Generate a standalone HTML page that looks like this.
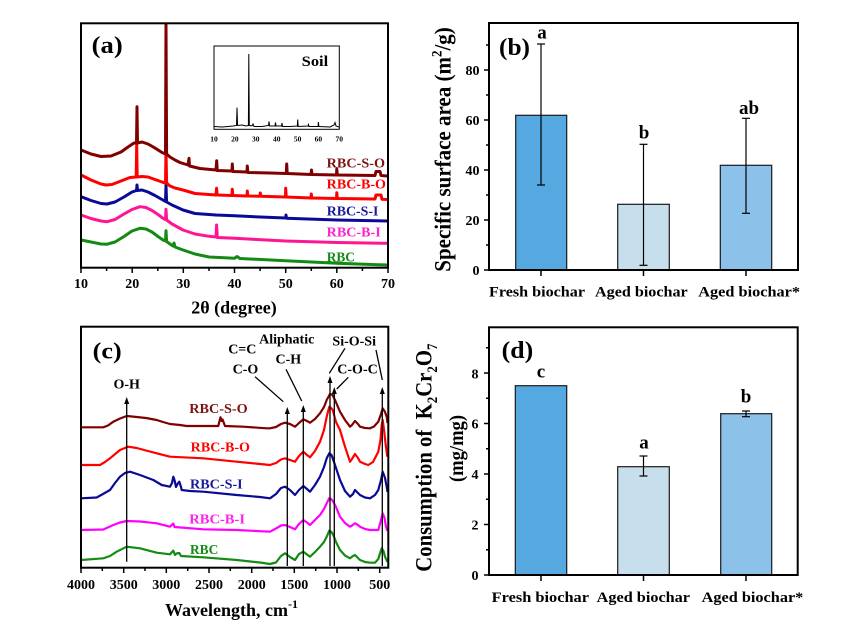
<!DOCTYPE html>
<html><head><meta charset="utf-8"><style>
html,body{margin:0;padding:0;background:#fff;}
svg{display:block;}
text{font-family:"Liberation Serif","Times New Roman",serif;font-weight:bold;}
</style></head><body>
<svg width="862" height="641" viewBox="0 0 862 641" xmlns="http://www.w3.org/2000/svg">
<rect width="862" height="641" fill="#fff"/>

<!-- ============ Panel (a) ============ -->
<g fill="none" stroke-linejoin="round" stroke-width="3">
<polyline stroke="#138a13" points="81,240 91,242 101,244 107,244.2 115,242 124,236.5 132,231 140,228.3 146,229 152,232 158,236.5 163,240 165.5,241 166,230.7 166.6,241.5 170,244 173,246 174,243 175,247 183,250 195,254 209,257 234.5,258.3 237,256.5 240,258.5 285.7,260.7 337,263.3 387,265"/>
<polyline stroke="#ff1493" points="81,215 91,218.5 101,221 107,221.7 115,219.5 124,214 132,209.5 140,206.7 146,207.5 152,210.5 158,214.5 163,218.3 165.5,219.5 166,209.3 166.6,220 172,224 183,230 195,234 209,236.3 216,237 216.6,225 217.3,237.5 234.5,238.3 285.7,241 337,242.5 387,243.3"/>
<polyline stroke="#0a0a96" points="81,196.7 91,200.5 101,203.5 107,204 115,202 124,197 132,192 136.5,190.5 137,185 137.5,190.5 142,190 148,192 155,195.5 162,199.5 165.5,201.5 166,185 166.6,202 172,205 183,210 195,213.5 216,215 234.5,215.7 260,217 285.7,218 286,215 286.5,218.3 337,220 387,221"/>
<polyline stroke="#ff0000" points="81,175 91,180 101,184 106,185 112,184.5 121,181 130,177.5 136.2,177 136.7,145 137.2,177 142,176.5 148,177 155,179.5 162,182 165.5,183 166,150 166.6,183 170,186 175,188 183,190 195,193.5 216,195 216.6,188.3 217.1,195 232,195.5 232.3,189.3 232.8,195.5 247,196 247.3,191 247.8,196 260,196.3 260.3,193 260.8,196.3 285.5,197 285.7,188.3 286.2,197 311,198 311.3,194 311.8,198 336.5,198.5 336.8,192.7 337.3,198.5 375,199 376,195 381,195 382,199.3 387,199.5"/>
<polyline stroke="#800000" points="81,150 91,154 101,156.5 111,156 121,152 128,147 134,143 136.5,143 137,106.7 137.5,143 142,142 148,144 155,148 162,152.5 165.5,154 166,24 166.6,154 170,157 175,160 180,162.5 188,165 189,158.3 189.5,166 200,168.5 216,170 216.7,160.7 217.2,170.5 232,171 232.3,164 232.8,171.5 247,172 247.3,166 247.8,172.5 270,173 286.3,173.5 286.7,164 287.2,173.5 311,174.5 311.5,170 312,174.5 336.5,175 336.8,169 337.3,175 375,175.5 376,171.5 380,171.5 381,175.5 387,176"/>
</g>
<rect x="81" y="23.3" width="307" height="244.4" fill="none" stroke="#000" stroke-width="2"/>
<g stroke="#000" stroke-width="1.5">
<line x1="81" y1="268" x2="81" y2="273"/><line x1="132.2" y1="268" x2="132.2" y2="273"/><line x1="183.3" y1="268" x2="183.3" y2="273"/><line x1="234.5" y1="268" x2="234.5" y2="273"/><line x1="285.7" y1="268" x2="285.7" y2="273"/><line x1="336.8" y1="268" x2="336.8" y2="273"/><line x1="388" y1="268" x2="388" y2="273"/>
<line x1="106.6" y1="268" x2="106.6" y2="271"/><line x1="157.8" y1="268" x2="157.8" y2="271"/><line x1="209" y1="268" x2="209" y2="271"/><line x1="260.1" y1="268" x2="260.1" y2="271"/><line x1="311.3" y1="268" x2="311.3" y2="271"/><line x1="362.4" y1="268" x2="362.4" y2="271"/>
</g>
<g font-size="14" text-anchor="middle" fill="#000">
<text x="81" y="288">10</text><text x="132.2" y="288">20</text><text x="183.3" y="288">30</text><text x="234.5" y="288">40</text><text x="285.7" y="288">50</text><text x="336.8" y="288">60</text><text x="388" y="288">70</text>
</g>
<text x="234" y="313.5" font-size="18" text-anchor="middle">2θ (degree)</text>
<text x="91.7" y="53" font-size="24" textLength="31" lengthAdjust="spacingAndGlyphs">(a)</text>
<g font-size="14">
<text x="326.7" y="167.3" fill="#7b1414" textLength="58.3" lengthAdjust="spacingAndGlyphs">RBC-S-O</text>
<text x="326.7" y="188.7" fill="#ff0000" textLength="59.3" lengthAdjust="spacingAndGlyphs">RBC-B-O</text>
<text x="326.7" y="215.3" fill="#1a1a99" textLength="51.7" lengthAdjust="spacingAndGlyphs">RBC-S-I</text>
<text x="326.7" y="236.3" fill="#ff22cc" textLength="54" lengthAdjust="spacingAndGlyphs">RBC-B-I</text>
<text x="326.7" y="261.3" fill="#138a13" textLength="28.3" lengthAdjust="spacingAndGlyphs">RBC</text>
</g>
<!-- inset -->
<rect x="214" y="46" width="125.3" height="83.3" fill="#fff" stroke="#000" stroke-width="1"/>
<polyline fill="none" stroke="#000" stroke-width="1" points="214.5,126.5 222,127 228,126.5 233,126 236.5,125.5 237,107.7 237.6,125.5 242,125 246,126 248.4,125.5 248.8,54 249.3,125.5 252,125.8 253,124 254,126.5 262,126.5 268.5,125.5 269,121.5 269.6,126 275,126 275.5,122.5 276,126 281.5,126 282,123 282.5,126.5 290,126.5 297.3,126 297.7,119.5 298.2,126.5 308,126 308.5,124.5 309,126.5 318,126.5 318.4,122 318.9,126.5 330,127 334,125 335,122.5 336,126 339,127"/>
<g font-size="7.5" text-anchor="middle">
<text x="214" y="141.5">10</text><text x="234.9" y="141.5">20</text><text x="255.8" y="141.5">30</text><text x="276.7" y="141.5">40</text><text x="297.6" y="141.5">50</text><text x="318.4" y="141.5">60</text><text x="339.3" y="141.5">70</text>
</g>
<text x="301.7" y="66" font-size="14.5" textLength="26.5" lengthAdjust="spacingAndGlyphs">Soil</text>

<!-- ============ Panel (b) ============ -->
<g stroke="#1a1a1a" stroke-width="1.2">
<rect x="515.7" y="115.3" width="51" height="154.7" fill="#55a9e0"/>
<rect x="617.7" y="204.3" width="51.6" height="65.7" fill="#c7deec"/>
<rect x="720.3" y="165.3" width="51.4" height="104.7" fill="#8cc1ea"/>
</g>
<g stroke="#000" stroke-width="1.2">
<line x1="541" y1="44" x2="541" y2="185"/><line x1="537" y1="44" x2="545" y2="44"/><line x1="537" y1="185" x2="545" y2="185"/>
<line x1="643.5" y1="144.3" x2="643.5" y2="265.3"/><line x1="639.5" y1="144.3" x2="647.5" y2="144.3"/><line x1="639.5" y1="265.3" x2="647.5" y2="265.3"/>
<line x1="746" y1="118.3" x2="746" y2="213.3"/><line x1="742" y1="118.3" x2="750" y2="118.3"/><line x1="742" y1="213.3" x2="750" y2="213.3"/>
</g>
<rect x="489" y="23" width="309" height="247" fill="none" stroke="#000" stroke-width="2"/>
<g stroke="#000" stroke-width="1.5">
<line x1="484" y1="270" x2="489" y2="270"/><line x1="484" y1="220" x2="489" y2="220"/><line x1="484" y1="170" x2="489" y2="170"/><line x1="484" y1="120" x2="489" y2="120"/><line x1="484" y1="70" x2="489" y2="70"/>
<line x1="486" y1="245" x2="489" y2="245"/><line x1="486" y1="195" x2="489" y2="195"/><line x1="486" y1="145" x2="489" y2="145"/><line x1="486" y1="95" x2="489" y2="95"/><line x1="486" y1="45" x2="489" y2="45"/>
<line x1="541" y1="270" x2="541" y2="276"/><line x1="643.5" y1="270" x2="643.5" y2="276"/><line x1="746" y1="270" x2="746" y2="276"/>
</g>
<g font-size="14" text-anchor="end">
<text x="479.5" y="275">0</text><text x="479.5" y="225">20</text><text x="479.5" y="175">40</text><text x="479.5" y="125">60</text><text x="479.5" y="75">80</text>
</g>
<g font-size="15">
<text x="489" y="296.7" textLength="96" lengthAdjust="spacingAndGlyphs">Fresh biochar</text>
<text x="595" y="296.7" textLength="92.7" lengthAdjust="spacingAndGlyphs">Aged biochar</text>
<text x="698.3" y="296.7" textLength="101.7" lengthAdjust="spacingAndGlyphs">Aged biochar*</text>
</g>
<g font-size="19" text-anchor="middle">
<text x="542" y="38.3">a</text><text x="644" y="138.3">b</text><text x="749" y="114">ab</text>
</g>
<text x="499" y="54.8" font-size="24" textLength="31" lengthAdjust="spacingAndGlyphs">(b)</text>
<g transform="translate(450.5,271.7) rotate(-90) scale(1,1.12)">
<text x="0" y="0" font-size="21">Specific surface area (m<tspan dy="-8" font-size="13">2</tspan><tspan dy="8">/g)</tspan></text>
</g>

<!-- ============ Panel (c) ============ -->
<g fill="none" stroke-linejoin="round" stroke-width="2.2">
<polyline stroke="#800000" points="81,427.3 103.3,427.3 108,425.5 113.3,421.7 120,418.5 126.7,416 136.7,417 146,418 156.7,420 163,422 170,424 180,425 186.7,426 200,426 218.3,426 219.5,421 220.5,417.3 221.7,421 222.6,419.5 223.5,422 225,426 243.3,426.7 266.7,428.3 270,428.3 276,427 281,424 285,422.7 290,424 295,426.7 299,423 303.3,419.3 307,421 310,422.7 315,419 320,413.3 324,407 326.7,400 330,394 332.5,395 335,400 340,411.7 345,420 350,426.7 352,425 355,421 358,424 360,426.7 365,428 370,428.3 374,426.5 378.3,421.7 381,414 382.7,408.3 385,412 386.7,416.7 387.5,423"/>
<polyline stroke="#ff0000" points="81,465 100,465 105,462 110,458.3 120,450 128.3,446.7 136.7,448 146,450.5 156.7,453.3 170,456.7 203.3,458.3 236.7,461.7 260,464 270,465 276,463 281,459.5 285,458.3 290,460 295,461.7 299,456 303.3,451.7 307,455 310,457.3 315,451 320,441.7 324,430 326.7,416.7 329.3,406.7 331,408 332.7,410 336,422 340,430 345,446.7 350,461.7 352,459 355,454 358,458 360,461.7 365,464 368.3,465 373,462 378.3,451.7 380.5,440 381.7,425 382.7,420 384,430 385.5,443 387.3,456.7"/>
<polyline stroke="#0a0a96" points="81,498.3 96.7,497.5 103,494 110,490 115,483 120,476.7 125,473 130,471.7 140,475 153.3,480 161.7,485 170,486.7 172,483 173.3,476.7 174.5,480 176,487 177.5,484 179.3,481.7 181,487 181.7,490 190,491 203.3,491.7 236.7,495 260,497 270,498.3 276,494 281,488 285,486.7 290,490 295,495 299,490 303.3,486 307,489 310,491.7 315,485 320,476.7 324,467 326.7,458.3 329.3,453.3 331.5,455 333.3,460 336,468 340,480 345,491 350,496.7 353,494 355,490 358,493 360,495 365,497.5 370,498.3 375,495 378.3,490 381,480 382.7,471.7 385,478 386.7,486.7 387.5,492"/>
<polyline stroke="#ff00ff" points="81,530 103.3,529.5 113.3,525 120,522.5 126.7,521 140,521.5 156.7,523.3 170,526.7 173.2,523.5 174.5,527 203.3,529.3 236.7,530 270,531.7 276,528.5 281,525.5 285,525 290,527 295,529.3 299,524 303.3,520 307,522.5 310,525 315,520 320,515 324,509 326.7,503.3 329.3,498.3 331,499 333.3,501.7 336,507 340,516.7 345,523 350,526.7 352,525.5 355,523.3 358,525 360,526.7 365,529 370,530 375,530 378.3,530 380.5,522 382.7,513.3 384.5,518 386,526.7 387.5,531"/>
<polyline stroke="#148c14" points="81,560 103.3,558.3 110,556 116.7,551.7 126.7,546.7 140,548.3 156.7,552.7 170,554.3 172,552 173.3,550.7 175,555 176.5,553.5 179.3,553 181,556 203.3,557.3 236.7,560 260,562.5 270,564 276,562.5 281,556 285,553.3 290,557 295,560 299,554 303.3,551.7 307,554.5 310,556.7 315,552 320,546.7 324,542 326.7,536.7 329.3,530.7 331.5,532 333.3,535 336,542 340,550 345,555.5 350,558.3 353,556 355,555 358,558 360,560 365,562 370,562.7 375,562.7 378.3,559 380.5,552 381.7,548.3 383.5,551 385,556.7 387.5,562"/>
</g>
<!-- arrows -->
<g stroke="#000" stroke-width="1.3" fill="none">
<line x1="126.7" y1="561.7" x2="126.7" y2="403"/>
<line x1="287.3" y1="566" x2="287.3" y2="412"/>
<line x1="303.3" y1="566" x2="303.3" y2="410"/>
<line x1="330" y1="566" x2="330" y2="381"/>
<line x1="334.3" y1="566" x2="334.3" y2="392"/>
<line x1="382.3" y1="566" x2="382.3" y2="392"/>
<line x1="255" y1="376.7" x2="283.3" y2="401.7"/>
<line x1="286" y1="369.3" x2="301.7" y2="401"/>
<line x1="345" y1="348.3" x2="329.3" y2="373.3"/>
<line x1="348.3" y1="377.3" x2="336.7" y2="389"/>
<line x1="376" y1="350" x2="382.3" y2="380"/>
</g>
<g fill="#000">
<polygon points="126.7,397 124.2,404 129.2,404"/>
<polygon points="287.3,407 284.8,414 289.8,414"/>
<polygon points="303.3,405 300.8,412 305.8,412"/>
<polygon points="330,376 327.5,383 332.5,383"/>
<polygon points="334.3,387 331.8,394 336.8,394"/>
<polygon points="382.3,387 379.8,394 384.8,394"/>
</g>
<rect x="81" y="326.7" width="307.3" height="241" fill="none" stroke="#000" stroke-width="2"/>
<g stroke="#000" stroke-width="1.5">
<line x1="81" y1="568" x2="81" y2="573"/><line x1="123.7" y1="568" x2="123.7" y2="573"/><line x1="166.3" y1="568" x2="166.3" y2="573"/><line x1="209" y1="568" x2="209" y2="573"/><line x1="251.7" y1="568" x2="251.7" y2="573"/><line x1="294.3" y1="568" x2="294.3" y2="573"/><line x1="337" y1="568" x2="337" y2="573"/><line x1="379.7" y1="568" x2="379.7" y2="573"/>
<line x1="102.3" y1="568" x2="102.3" y2="571"/><line x1="145" y1="568" x2="145" y2="571"/><line x1="187.7" y1="568" x2="187.7" y2="571"/><line x1="230.3" y1="568" x2="230.3" y2="571"/><line x1="273" y1="568" x2="273" y2="571"/><line x1="315.7" y1="568" x2="315.7" y2="571"/><line x1="358.3" y1="568" x2="358.3" y2="571"/>
</g>
<g font-size="14" text-anchor="middle">
<text x="81" y="589">4000</text><text x="123.7" y="589">3500</text><text x="166.3" y="589">3000</text><text x="209" y="589">2500</text><text x="251.7" y="589">2000</text><text x="294.3" y="589">1500</text><text x="337" y="589">1000</text><text x="379.7" y="589">500</text>
</g>
<text x="165" y="616" font-size="18">Wavelength, cm<tspan dy="-8" font-size="12">-1</tspan></text>
<text x="92.7" y="358.5" font-size="23" textLength="29" lengthAdjust="spacingAndGlyphs">(c)</text>
<g font-size="14" text-anchor="middle">
<text x="126.7" y="388.3">O-H</text>
<text x="242.3" y="353.3">C=C</text>
<text x="245.5" y="373.3">C-O</text>
<text x="286.7" y="343.5">Aliphatic</text>
<text x="288.3" y="363.3">C-H</text>
<text x="354.2" y="345.5">Si-O-Si</text>
<text x="357.5" y="373.3">C-O-C</text>
</g>
<g font-size="14">
<text x="189.3" y="413" fill="#7b1414" textLength="58.4" lengthAdjust="spacingAndGlyphs">RBC-S-O</text>
<text x="190.7" y="451.7" fill="#ff0000" textLength="59.3" lengthAdjust="spacingAndGlyphs">RBC-B-O</text>
<text x="190" y="488.3" fill="#1a1a99" textLength="52.7" lengthAdjust="spacingAndGlyphs">RBC-S-I</text>
<text x="189.3" y="523.3" fill="#ff22ee" textLength="55.7" lengthAdjust="spacingAndGlyphs">RBC-B-I</text>
<text x="190" y="554" fill="#138a13" textLength="28.3" lengthAdjust="spacingAndGlyphs">RBC</text>
</g>

<!-- ============ Panel (d) ============ -->
<g stroke="#1a1a1a" stroke-width="1.2">
<rect x="515.3" y="385.7" width="51.4" height="189.3" fill="#55a9e0"/>
<rect x="617.7" y="466.7" width="51.6" height="108.3" fill="#c7deec"/>
<rect x="720.7" y="413.7" width="51" height="161.3" fill="#8cc1ea"/>
</g>
<g stroke="#000" stroke-width="1.2">
<line x1="643.5" y1="456" x2="643.5" y2="476"/><line x1="639.5" y1="456" x2="647.5" y2="456"/><line x1="639.5" y1="476" x2="647.5" y2="476"/>
<line x1="746" y1="411" x2="746" y2="416.7"/><line x1="742" y1="411" x2="750" y2="411"/><line x1="742" y1="416.7" x2="750" y2="416.7"/>
</g>
<rect x="489" y="327.3" width="308.7" height="247.7" fill="none" stroke="#000" stroke-width="2"/>
<g stroke="#000" stroke-width="1.5">
<line x1="484" y1="575" x2="489" y2="575"/><line x1="484" y1="524.5" x2="489" y2="524.5"/><line x1="484" y1="474" x2="489" y2="474"/><line x1="484" y1="423.5" x2="489" y2="423.5"/><line x1="484" y1="373" x2="489" y2="373"/>
<line x1="486" y1="549.75" x2="489" y2="549.75"/><line x1="486" y1="499.25" x2="489" y2="499.25"/><line x1="486" y1="448.75" x2="489" y2="448.75"/><line x1="486" y1="398.25" x2="489" y2="398.25"/><line x1="486" y1="347.75" x2="489" y2="347.75"/>
<line x1="541" y1="575" x2="541" y2="581"/><line x1="643.5" y1="575" x2="643.5" y2="581"/><line x1="746" y1="575" x2="746" y2="581"/>
</g>
<g font-size="14" text-anchor="end">
<text x="478.5" y="580">0</text><text x="478.5" y="529.5">2</text><text x="478.5" y="479">4</text><text x="478.5" y="428.5">6</text><text x="478.5" y="378.3">8</text>
</g>
<g font-size="15">
<text x="491.7" y="602" textLength="97.3" lengthAdjust="spacingAndGlyphs">Fresh biochar</text>
<text x="596.7" y="602" textLength="93.3" lengthAdjust="spacingAndGlyphs">Aged biochar</text>
<text x="701.7" y="602" textLength="101.6" lengthAdjust="spacingAndGlyphs">Aged biochar*</text>
</g>
<g font-size="19" text-anchor="middle">
<text x="541" y="377.3">c</text><text x="644" y="448.3">a</text><text x="746" y="402.7">b</text>
</g>
<text x="501.7" y="358" font-size="24" textLength="31.6" lengthAdjust="spacingAndGlyphs">(d)</text>
<g transform="translate(431.5,571.7) rotate(-90) scale(1,1.1)">
<text x="0" y="0" font-size="20.7" style="white-space:pre">Consumption of  K<tspan dy="5" font-size="13">2</tspan><tspan dy="-5">Cr</tspan><tspan dy="5" font-size="13">2</tspan><tspan dy="-5">O</tspan><tspan dy="5" font-size="13">7</tspan></text>
</g>
<g transform="translate(463,482) rotate(-90) scale(1,1.06)">
<text x="0" y="0" font-size="19" textLength="67" lengthAdjust="spacingAndGlyphs">(mg/mg)</text>
</g>
</svg>
</body></html>
